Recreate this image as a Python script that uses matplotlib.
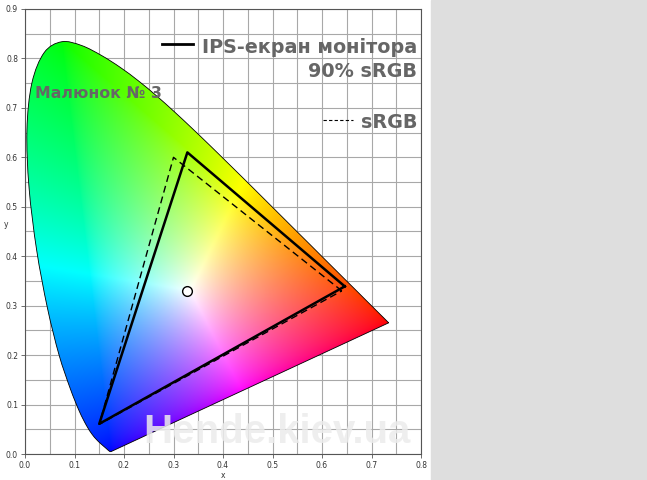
import numpy as np
import matplotlib.pyplot as plt
from matplotlib.path import Path
from matplotlib.patches import PathPatch, Rectangle

# CIE 1931 spectral locus (x, y), 380..700 nm
locus_x = [0.1741, 0.1740, 0.1738, 0.1736, 0.1733, 0.1730, 0.1726, 0.1721, 0.1714, 0.1703,
           0.1689, 0.1669, 0.1644, 0.1611, 0.1566, 0.1510, 0.1440, 0.1355, 0.1241, 0.1096,
           0.0913, 0.0687, 0.0454, 0.0235, 0.0082, 0.0039, 0.0139, 0.0389, 0.0743, 0.1142,
           0.1547, 0.1929, 0.2296, 0.2658, 0.3016, 0.3373, 0.3731, 0.4087, 0.4441, 0.4788,
           0.5125, 0.5448, 0.5752, 0.6029, 0.6270, 0.6482, 0.6658, 0.6801, 0.6915, 0.7006,
           0.7079, 0.7140, 0.7190, 0.7230, 0.7260, 0.7283, 0.7300, 0.7311, 0.7320, 0.7334,
           0.7344, 0.7347]
locus_y = [0.0050, 0.0050, 0.0049, 0.0049, 0.0048, 0.0048, 0.0048, 0.0048, 0.0051, 0.0058,
           0.0069, 0.0086, 0.0109, 0.0138, 0.0177, 0.0227, 0.0297, 0.0399, 0.0578, 0.0868,
           0.1327, 0.2007, 0.2950, 0.4127, 0.5384, 0.6548, 0.7502, 0.8120, 0.8338, 0.8262,
           0.8059, 0.7816, 0.7543, 0.7243, 0.6923, 0.6589, 0.6245, 0.5896, 0.5547, 0.5202,
           0.4866, 0.4544, 0.4242, 0.3965, 0.3725, 0.3514, 0.3340, 0.3197, 0.3083, 0.2993,
           0.2920, 0.2859, 0.2809, 0.2770, 0.2740, 0.2717, 0.2700, 0.2689, 0.2680, 0.2666,
           0.2656, 0.2653]

# monitor gamut and sRGB (R, G, B)
ips_x = [0.646, 0.328, 0.150]
ips_y = [0.339, 0.610, 0.061]
srgb_x = [0.64, 0.30, 0.15]
srgb_y = [0.33, 0.60, 0.06]
white_pt = (0.327, 0.330)


def locus_path(xs, ys):
    # smooth outline through the locus points (Catmull-Rom -> Bezier), closed by the purple line
    p = np.column_stack([xs, ys])
    verts = [p[0]]
    codes = [Path.MOVETO]
    n = len(p)
    for i in range(n - 1):
        p0 = p[max(i - 1, 0)]
        p1 = p[i]
        p2 = p[i + 1]
        p3 = p[min(i + 2, n - 1)]
        verts += [p1 + (p2 - p0) / 6, p2 - (p3 - p1) / 6, p2]
        codes += [Path.CURVE4] * 3
    verts.append(p[0])
    codes.append(Path.LINETO)
    return Path(verts, codes)


fig = plt.figure(figsize=(6.47, 4.8), dpi=100)
fig.patches.append(Rectangle((431 / 647, 0), 1, 1, transform=fig.transFigure,
                             color='#dedede', zorder=0))
ax = fig.add_axes([25 / 647, 26 / 480, 396 / 647, 445 / 480])

# colour fill: primaries at the locus corners
prim = np.array([[0.7347, 0.2653], [0.0743, 0.8338], [0.1741, 0.0050]])
P = np.array([[x / y, 1.0, (1 - x - y) / y] for x, y in prim]).T
wx, wy = 0.334, 0.330
S = np.linalg.solve(P, [wx / wy, 1.0, (1 - wx - wy) / wy])
M = np.linalg.inv(P * S)

gx, gy = np.meshgrid(np.linspace(0, 0.8, 500), np.linspace(0, 0.9, 560))
gy_s = np.maximum(gy, 1e-4)
xyz = np.stack([gx / gy_s, np.ones_like(gx), (1 - gx - gy) / gy_s], axis=-1)
rgb = xyz @ M.T
rgb = np.clip(rgb, 0, None)
rgb = rgb / np.maximum(rgb.max(axis=-1, keepdims=True), 1e-9)
rgb = np.clip(rgb, 0, 1) ** (1 / 1.5)
im = ax.imshow(rgb, origin='lower', extent=[0, 0.8, 0, 0.9], aspect='auto', zorder=2,
               interpolation='bilinear')
lp = locus_path(locus_x, locus_y)
clip = PathPatch(lp, transform=ax.transData, facecolor='none', edgecolor='none')
ax.add_patch(clip)
im.set_clip_path(clip)
ax.add_patch(PathPatch(lp, facecolor='none', edgecolor='black', lw=0.6, zorder=3))

ax.plot(srgb_x + [srgb_x[0]], srgb_y + [srgb_y[0]], color='black', lw=1, ls=(0, (5, 3)), zorder=4)
ax.plot(ips_x + [ips_x[0]], ips_y + [ips_y[0]], color='black', lw=1.8, zorder=5)
ax.plot(*white_pt, 'o', ms=7, mfc='white', mec='black', mew=1, zorder=6)

ax.set_xlim(0, 0.8)
ax.set_ylim(0, 0.9)
ax.set_xticks(np.arange(0, 0.81, 0.1))
ax.set_yticks(np.arange(0, 0.91, 0.1))
ax.set_xticks(np.arange(0, 0.81, 0.05), minor=True)
ax.set_yticks(np.arange(0, 0.91, 0.05), minor=True)
ax.set_xticklabels(['%.1f' % v for v in np.arange(0, 0.81, 0.1)])
ax.set_yticklabels(['%.1f' % v for v in np.arange(0, 0.91, 0.1)])
ax.grid(which='both', color='#a8a8a8', lw=0.8, zorder=1)
ax.set_axisbelow(True)
ax.tick_params(which='major', labelsize=5.5, length=3, width=0.6, color='#555555', pad=2,
               labelcolor='#333333')
ax.tick_params(which='minor', length=0)
for s in ax.spines.values():
    s.set_color('#555555')
    s.set_linewidth(0.8)
ax.set_xlabel('x', fontsize=5.5, labelpad=1, color='#333333')
ax.set_ylabel('y', fontsize=5.5, labelpad=1, color='#333333', rotation=0)
ax.yaxis.set_label_coords(-0.048, 0.505)

# legend
tc = '#666666'
ax.text(0.792, 0.812, 'IPS-екран монітора', ha='right', va='baseline', fontsize=13.8,
        fontweight='bold', color=tc, zorder=7)
ax.text(0.792, 0.762, '90% sRGB', ha='right', va='baseline', fontsize=13.8,
        fontweight='bold', color=tc, zorder=7)
ax.plot([0.277, 0.339], [0.829, 0.829], color='black', lw=2, zorder=7)
ax.text(0.792, 0.659, 'sRGB', ha='right', va='baseline', fontsize=13.8,
        fontweight='bold', color=tc, zorder=7)
ax.plot([0.602, 0.662], [0.675, 0.675], color='black', lw=0.8, ls=(0, (3, 2)), zorder=7)
ax.text(0.02, 0.72, 'Малюнок № 3', ha='left', va='baseline', fontsize=11.3,
        fontweight='bold', color=tc, zorder=7)

ax.text(0.509, 0.022, 'Hende.kiev.ua', ha='center', va='baseline', fontsize=29,
        fontweight='bold', family='Liberation Sans', color='#ececec', alpha=0.85, zorder=8)

fig.savefig('out.png', dpi=100)
